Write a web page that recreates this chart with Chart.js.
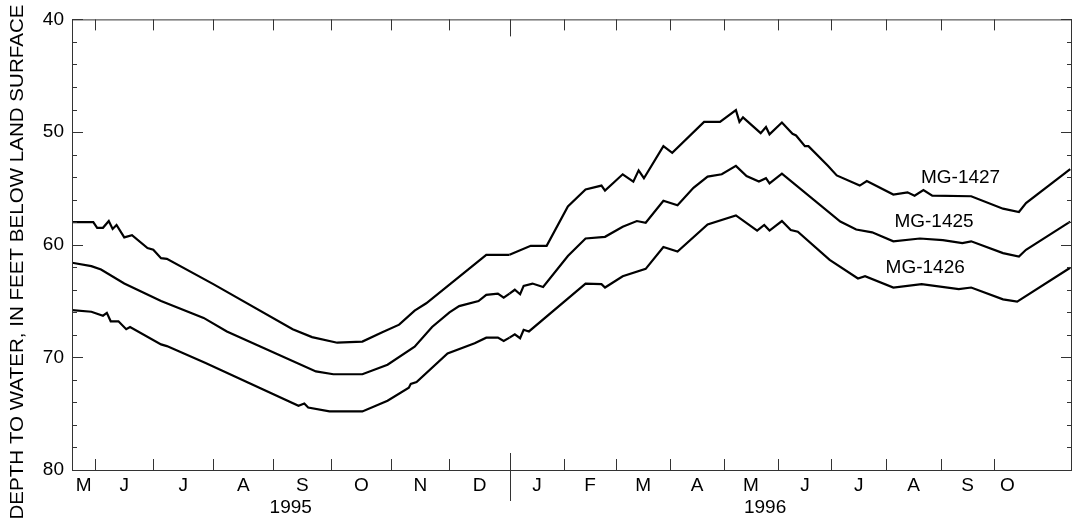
<!DOCTYPE html>
<html>
<head>
<meta charset="utf-8">
<script src="https://cdn.jsdelivr.net/npm/chart.js@4"></script>
<style>
  html, body { margin: 0; padding: 0; background: #fff; }
  #chart { display: block; }
</style>
</head>
<body>
<canvas id="chart" width="1073" height="523"></canvas>
<script>
// Well MG-1427 (upper line)
const mg1427Dates = ['1995-05-20','1995-05-31','1995-06-02','1995-06-05','1995-06-08','1995-06-10','1995-06-12','1995-06-16','1995-06-20','1995-06-28','1995-07-01','1995-07-05','1995-07-08','1995-08-01','1995-09-11','1995-09-21','1995-10-04','1995-10-17','1995-10-27','1995-11-05','1995-11-13','1995-11-19','1995-12-20','1996-01-01','1996-01-13','1996-01-22','1996-02-03','1996-02-13','1996-02-22','1996-02-24','1996-03-05','1996-03-11','1996-03-14','1996-03-17','1996-03-28','1996-04-02','1996-04-20','1996-04-29','1996-05-08','1996-05-10','1996-05-12','1996-05-22','1996-05-25','1996-05-27','1996-06-03','1996-06-09','1996-06-11','1996-06-16','1996-06-18','1996-06-29','1996-07-04','1996-07-17','1996-07-21','1996-08-05','1996-08-13','1996-08-17','1996-08-22','1996-08-27','1996-09-18','1996-10-06','1996-10-15','1996-10-19','1996-11-13'];
const mg1427Depths = [58.0,58.0,58.5,58.5,57.9,58.6,58.25,59.35,59.15,60.3,60.45,61.2,61.25,63.5,67.5,68.2,68.7,68.6,67.8,67.1,65.85,65.2,60.9,60.9,60.1,60.1,56.6,55.1,54.75,55.2,53.75,54.4,53.4,54.1,51.25,51.85,49.1,49.1,48.05,49.1,48.7,50.1,49.55,50.2,49.15,50.15,50.3,51.25,51.25,53.0,53.85,54.75,54.35,55.55,55.35,55.65,55.15,55.65,55.7,56.8,57.1,56.3,53.3];

// Well MG-1425 (middle line)
const mg1425Dates = ['1995-05-20','1995-05-30','1995-06-04','1995-06-16','1995-07-05','1995-07-27','1995-08-08','1995-09-23','1995-10-02','1995-10-17','1995-10-30','1995-11-13','1995-11-22','1995-12-01','1995-12-06','1995-12-16','1995-12-20','1995-12-26','1995-12-29','1996-01-01','1996-01-04','1996-01-07','1996-01-09','1996-01-14','1996-01-20','1996-02-03','1996-02-13','1996-02-24','1996-03-05','1996-03-13','1996-03-18','1996-03-28','1996-04-05','1996-04-14','1996-04-22','1996-04-30','1996-05-08','1996-05-14','1996-05-21','1996-05-25','1996-05-27','1996-06-03','1996-07-06','1996-07-15','1996-07-24','1996-08-05','1996-08-20','1996-09-02','1996-09-13','1996-09-18','1996-10-06','1996-10-15','1996-10-19','1996-11-13'];
const mg1425Depths = [61.6,61.9,62.2,63.45,65.0,66.5,67.7,71.25,71.5,71.5,70.65,69.05,67.3,66.0,65.45,65.0,64.45,64.35,64.7,64.35,64.0,64.4,63.65,63.45,63.75,61.0,59.45,59.3,58.4,57.9,58.05,56.1,56.5,54.95,53.95,53.75,53.0,53.9,54.4,54.1,54.55,53.7,57.95,58.65,58.9,59.7,59.45,59.6,59.85,59.7,60.75,61.05,60.45,57.95];

// Well MG-1426 (lower line)
const mg1426Dates = ['1995-05-20','1995-05-30','1995-06-05','1995-06-07','1995-06-09','1995-06-13','1995-06-17','1995-06-19','1995-07-05','1995-07-08','1995-07-28','1995-09-14','1995-09-17','1995-09-19','1995-09-30','1995-10-17','1995-10-30','1995-11-10','1995-11-11','1995-11-14','1995-11-30','1995-12-14','1995-12-20','1995-12-26','1995-12-29','1996-01-01','1996-01-04','1996-01-07','1996-01-09','1996-01-12','1996-02-13','1996-02-22','1996-02-24','1996-03-05','1996-03-18','1996-03-28','1996-04-05','1996-04-22','1996-05-08','1996-05-20','1996-05-24','1996-05-27','1996-06-03','1996-06-08','1996-06-12','1996-06-30','1996-07-16','1996-07-20','1996-08-05','1996-08-21','1996-09-11','1996-09-18','1996-10-06','1996-10-14','1996-11-13'];
const mg1426Depths = [65.8,65.95,66.3,66.05,66.8,66.8,67.5,67.3,68.85,69.0,70.5,74.3,74.1,74.45,74.8,74.8,73.85,72.7,72.35,72.2,69.65,68.75,68.25,68.25,68.55,68.25,67.95,68.3,67.55,67.7,63.45,63.5,63.8,62.8,62.15,60.2,60.6,58.2,57.4,58.75,58.25,58.75,57.9,58.7,58.85,61.35,63.0,62.8,63.8,63.5,63.95,63.8,64.85,65.05,62.05];

const wellNames = ['MG-1427', 'MG-1425', 'MG-1426'];
const monthLetters = ['M','J','J','A','S','O','N','D','J','F','M','A','M','J','J','A','S','O'];
const yearLabels = ['1995', '1996'];
const depthTicks = [40, 50, 60, 70, 80];

const AXIS_START = '1995-05-20';
const AXIS_END = '1996-11-14';
const LABEL_END = '1996-10-16';   // month/year labels are centred as if the axis stopped here
const SPLIT_FRAC = 0.4375;        // share of the width given to 1995 (the two years have different scales)
const FONT = '"Liberation Sans", Arial, Helvetica, sans-serif';

const DAY = 86400000;
const EPOCH = Date.UTC(1996, 0, 1);
function dayNum(s) {
    const p = s.split('-');
    return (Date.UTC(+p[0], +p[1] - 1, +p[2]) - EPOCH) / DAY;
}
const axisStart = dayNum(AXIS_START);
const axisEnd = dayNum(AXIS_END);
const labelEnd = dayNum(LABEL_END);

// split one well into its 1995 part and its 1996 part (Jan 1 goes in both)
function part(dates, depths, first) {
    const out = [];
    dates.forEach((d, i) => {
        const x = dayNum(d);
        if (first ? x <= 0 : x >= 0) out.push({ x: x, y: depths[i] });
    });
    return out;
}

const wells = [
    [mg1427Dates, mg1427Depths],
    [mg1425Dates, mg1425Depths],
    [mg1426Dates, mg1426Depths]
];
const datasets = [];
wells.forEach((w, i) => {
    [true, false].forEach(first => {
        datasets.push({
            label: wellNames[i],
            data: part(w[0], w[1], first),
            xAxisID: first ? 'x95' : 'x96',
            borderColor: '#000',
            borderWidth: 2.2,
            pointRadius: 0,
            tension: 0,
            fill: false
        });
    });
});

// where the well names sit (date, depth)
const wellLabelAt = [['1996-09-12', 54.1], ['1996-08-28', 58.0], ['1996-08-23', 62.05]];

const decorations = {
    id: 'decorations',
    afterDraw(chart) {
        const ctx = chart.ctx;
        const a = chart.chartArea;
        const sx = d => (d <= 0 ? chart.scales.x95 : chart.scales.x96).getPixelForValue(d);
        const sy = v => chart.scales.y.getPixelForValue(v);
        ctx.save();

        // frame
        ctx.strokeStyle = '#333';
        ctx.lineWidth = 1;
        ctx.beginPath();
        ctx.moveTo(a.left + 0.5, a.top + 0.5);
        ctx.lineTo(a.right - 0.5, a.top + 0.5);
        ctx.moveTo(a.left + 0.5, a.top);
        ctx.lineTo(a.left + 0.5, a.bottom + 1);
        ctx.moveTo(a.left, a.bottom + 0.5);
        ctx.lineTo(a.right, a.bottom + 0.5);
        ctx.moveTo(a.right - 0.5, a.top);
        ctx.lineTo(a.right - 0.5, a.bottom + 1);
        ctx.stroke();

        // depth ticks, inward on both sides
        ctx.beginPath();
        for (let v = 40; v <= 80; v += 2) {
            const y = Math.round(sy(v)) + 0.5;
            const len = v % 10 === 0 ? 11 : 5;
            ctx.moveTo(a.left, y); ctx.lineTo(a.left + len, y);
            ctx.moveTo(a.right, y); ctx.lineTo(a.right - len, y);
        }
        ctx.stroke();

        // month ticks and labels
        ctx.fillStyle = '#000';
        ctx.font = '19px ' + FONT;
        ctx.textAlign = 'center';
        ctx.textBaseline = 'middle';
        ctx.beginPath();
        monthLetters.forEach((letter, i) => {
            const s = (Date.UTC(1995, 4 + i, 1) - EPOCH) / DAY;
            const e = (Date.UTC(1995, 5 + i, 1) - EPOCH) / DAY;
            if (s > axisStart && s < axisEnd) {
                const x = Math.round(sx(s)) + 0.5;
                if (s === 0) {
                    ctx.moveTo(x, a.top); ctx.lineTo(x, a.top + 17);
                    ctx.moveTo(x, a.bottom - 17); ctx.lineTo(x, a.bottom + 31);
                } else {
                    ctx.moveTo(x, a.top); ctx.lineTo(x, a.top + 11);
                    ctx.moveTo(x, a.bottom - 11); ctx.lineTo(x, a.bottom);
                }
            }
            const lo = Math.max(s, axisStart), hi = Math.min(e, labelEnd);
            ctx.fillText(letter, sx((lo + hi) / 2), a.bottom + 16);
        });
        ctx.stroke();

        // years
        ctx.fillText(yearLabels[0], sx(axisStart / 2), a.bottom + 38);
        ctx.fillText(yearLabels[1], sx(labelEnd / 2), a.bottom + 38);

        // well names
        wellLabelAt.forEach((p, i) => {
            ctx.fillText(wellNames[i], sx(dayNum(p[0])), sy(p[1]));
        });

        // axis title, stretched along the left edge
        const title = 'DEPTH TO WATER, IN FEET BELOW LAND SURFACE';
        ctx.font = '18px ' + FONT;
        ctx.translate(18, 262);
        ctx.rotate(-Math.PI / 2);
        const w = ctx.measureText(title).width;
        ctx.scale(515 / w, 1);
        ctx.fillText(title, 0, 0);
        ctx.restore();
    }
};

new Chart(document.getElementById('chart'), {
    type: 'line',
    data: { datasets: datasets },
    options: {
        responsive: false,
        animation: false,
        events: [],
        layout: { padding: { top: 13, right: 1, bottom: 53, left: 0 } },
        plugins: { legend: { display: false }, tooltip: { enabled: false } },
        scales: {
            x95: {
                type: 'linear', display: false,
                min: axisStart, max: axisStart - axisStart / SPLIT_FRAC
            },
            x96: {
                type: 'linear', display: false,
                min: axisEnd - axisEnd / (1 - SPLIT_FRAC), max: axisEnd
            },
            y: {
                type: 'linear', position: 'left', reverse: true,
                min: 40, max: 80,
                afterFit: s => { s.width = 72; },
                afterBuildTicks: s => { s.ticks = depthTicks.map(v => ({ value: v })); },
                ticks: { color: '#000', padding: 8, font: { size: 19, family: FONT } },
                grid: { display: false, drawTicks: false },
                border: { display: false }
            }
        }
    },
    plugins: [decorations]
});
</script>
</body>
</html>
